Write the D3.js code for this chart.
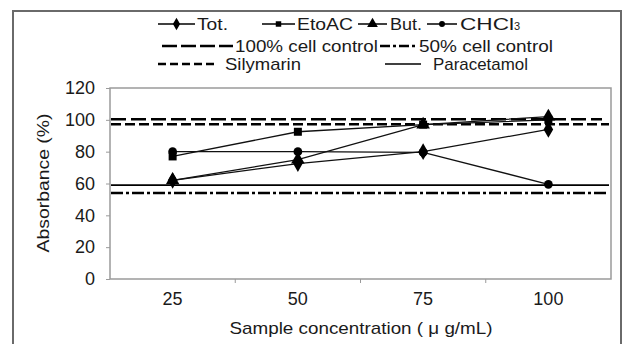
<!DOCTYPE html>
<html>
<head>
<meta charset="utf-8">
<script src="https://cdn.jsdelivr.net/npm/d3@7"></script>
<style>
  body { margin: 0; background: #fff; }
</style>
</head>
<body>
<div class="chart"></div>
<script>
// categories and series
var concentrations = ['25', '50', '75', '100'];
var yTicks = [0, 20, 40, 60, 80, 100, 120];

var totValues = [62, 72.5, 80, 94];
var etoacValues = [77, 92.5, 97, 100];
var butValues = [62, 75, 97, 102];
var chcl3Values = [80, 80, 79.5, 59.5];

// horizontal reference levels
var control100 = 100.3;
var control50 = 54;
var silymarin = 97.2;
var paracetamol = 59;

var width = 622,
  height = 344;

// no serif face is installed, so a sans face is stretched to the reference widths
var font = "'Liberation Sans', Arial, sans-serif";

var margin = { left: 110, right: 11, top: 88, bottom: 65 };

var svg = d3.select('.chart')
  .append('svg')
  .attr('width', width)
  .attr('height', height)
  .attr('font-family', font);

// outer frame
svg.append('path')
  .attr('d', 'M13,' + height + 'V11H' + (width - 1) + 'V' + height)
  .style('fill', 'none')
  .style('stroke', '#6a6a6a')
  .style('stroke-width', 2);

var x = d3.scaleBand()
  .domain(concentrations)
  .range([margin.left, width - margin.right])
  .padding(0);

var y = d3.scaleLinear()
  .domain([0, 120])
  .range([height - margin.bottom, margin.top]);

// plot area border
svg.append('rect')
  .attr('x', margin.left)
  .attr('y', margin.top)
  .attr('width', width - margin.right - margin.left)
  .attr('height', height - margin.bottom - margin.top)
  .style('fill', 'none')
  .style('stroke', '#9a9a9a')
  .style('stroke-width', 1.5);

// y axis
var yaxis = svg.append('g')
  .attr('transform', 'translate(' + margin.left + ',0)')
  .call(d3.axisLeft(y).tickValues(yTicks).tickSize(4).tickSizeOuter(0).tickPadding(11));
yaxis.attr('font-family', font).attr('font-size', 18);
yaxis.select('.domain').remove();
yaxis.selectAll('line').style('stroke', '#9a9a9a');
yaxis.selectAll('text').style('fill', '#1a1a1a');

// x axis: ticks between categories
var xaxis = svg.append('g')
  .attr('transform', 'translate(0,' + (height - margin.bottom) + ')')
  .call(d3.axisBottom(x).tickSize(0).tickPadding(13));
xaxis.attr('font-family', font).attr('font-size', 18);
xaxis.select('.domain').remove();
xaxis.selectAll('text').style('fill', '#1a1a1a');

var between = concentrations.slice(1).map(function (c) { return x(c); });
svg.append('g').selectAll('line')
  .data(between)
  .enter().append('line')
  .attr('x1', function (d) { return d; })
  .attr('x2', function (d) { return d; })
  .attr('y1', height - margin.bottom)
  .attr('y2', height - margin.bottom + 4)
  .style('stroke', '#9a9a9a');

// axis titles
svg.append('text')
  .attr('text-anchor', 'middle')
  .attr('transform', 'translate(49,183)rotate(-90)')
  .attr('font-size', 17)
  .attr('textLength', 139)
  .attr('lengthAdjust', 'spacingAndGlyphs')
  .style('fill', '#1a1a1a')
  .text('Absorbance (%)');

svg.append('text')
  .attr('text-anchor', 'middle')
  .attr('x', 361)
  .attr('y', 334)
  .attr('font-size', 17)
  .attr('textLength', 263)
  .attr('lengthAdjust', 'spacingAndGlyphs')
  .style('fill', '#1a1a1a')
  .text('Sample concentration ( \u03bc g/mL)');

// reference lines
var refLines = [
  { value: control100, dash: '15,5', x2: 602, w: 2.5 },
  { value: silymarin, dash: '10,4', x2: 609, w: 2.5 },
  { value: paracetamol, dash: null, x2: 609, w: 1.8 },
  { value: control50, dash: '12,3,3,3', x2: 606, w: 2.5 }
];

svg.append('g').selectAll('line')
  .data(refLines)
  .enter().append('line')
  .attr('x1', margin.left + 1)
  .attr('x2', function (d) { return d.x2; })
  .attr('y1', function (d) { return y(d.value); })
  .attr('y2', function (d) { return y(d.value); })
  .style('stroke', '#000')
  .style('stroke-width', function (d) { return d.w; })
  .style('stroke-dasharray', function (d) { return d.dash; });

var series = [
  { name: 'CHCl3', values: chcl3Values, symbol: d3.symbolCircle, size: 60 },
  { name: 'Tot.', values: totValues, symbol: d3.symbolDiamond, size: 80 },
  { name: 'EtoAC', values: etoacValues, symbol: d3.symbolSquare, size: 64 },
  { name: 'But.', values: butValues, symbol: d3.symbolTriangle, size: 80 }
];

var line = d3.line()
  .x(function (d, i) { return x(concentrations[i]) + x.bandwidth() / 2; })
  .y(function (d) { return y(d); });

var lines = svg.append('g');
series.forEach(function (s) {
  lines.append('path')
    .datum(s.values)
    .attr('d', line)
    .style('fill', 'none')
    .style('stroke', '#111')
    .style('stroke-width', 1.3);
});
series.forEach(function (s) {
  lines.selectAll(null)
    .data(s.values)
    .enter().append('path')
    .attr('transform', function (d, i) {
      return 'translate(' + (x(concentrations[i]) + x.bandwidth() / 2) + ',' + y(d) + ')';
    })
    .attr('d', d3.symbol().type(s.symbol).size(s.size))
    .style('fill', '#000');
});

// legend
var legend = svg.append('g').attr('font-size', 17);

var markerItems = [
  { label: 'Tot.', symbol: d3.symbolDiamond, size: 45, x: 158, len: 37, tx: 197, tw: 31 },
  { label: 'EtoAC', symbol: d3.symbolSquare, size: 30, x: 262, len: 33, tx: 297, tw: 56 },
  { label: 'But.', symbol: d3.symbolTriangle, size: 50, x: 358, len: 29, tx: 390, tw: 32 },
  { label: 'CHCl', sub: '3', symbol: d3.symbolCircle, size: 28, x: 427, len: 30, tx: 460, tw: 62 }
];

markerItems.forEach(function (m) {
  var g = legend.append('g').attr('transform', 'translate(0,24)');
  g.append('line').attr('x1', m.x).attr('x2', m.x + m.len).style('stroke', '#000').style('stroke-width', 1.5);
  g.append('path').attr('transform', 'translate(' + (m.x + m.len / 2) + ',0)')
    .attr('d', d3.symbol().type(m.symbol).size(m.size)).style('fill', '#000');
  var t = g.append('text').attr('x', m.tx).attr('y', 6).style('fill', '#1a1a1a');
  if (m.sub) {
    t.append('tspan').attr('textLength', m.tw - 8).attr('lengthAdjust', 'spacingAndGlyphs').text(m.label);
    t.append('tspan').attr('font-size', 11).text(m.sub);
  } else {
    t.attr('textLength', m.tw).attr('lengthAdjust', 'spacingAndGlyphs').text(m.label);
  }
});

var lineItems = [
  { label: '100% cell control', dash: '15,4,15,4,15,4,15,4,5,0', x: 162, x2: 233, y: 46, tx: 235, tw: 143, w: 2.5 },
  { label: '50% cell control', dash: '10,3,3,3', x: 380, x2: 415, y: 46, tx: 419, tw: 134, w: 2.5 },
  { label: 'Silymarin', dash: '8,4', x: 158, x2: 217, y: 64, tx: 225, tw: 76, w: 2.5 },
  { label: 'Paracetamol', dash: null, x: 385, x2: 421, y: 64, tx: 433, tw: 95, w: 1.5 }
];

lineItems.forEach(function (m) {
  var g = legend.append('g').attr('transform', 'translate(0,' + m.y + ')');
  g.append('line').attr('x1', m.x).attr('x2', m.x2)
    .style('stroke', '#000')
    .style('stroke-width', m.w)
    .style('stroke-dasharray', m.dash);
  g.append('text').attr('x', m.tx).attr('y', 6)
    .attr('textLength', m.tw).attr('lengthAdjust', 'spacingAndGlyphs')
    .style('fill', '#1a1a1a').text(m.label);
});
</script>
</body>
</html>
